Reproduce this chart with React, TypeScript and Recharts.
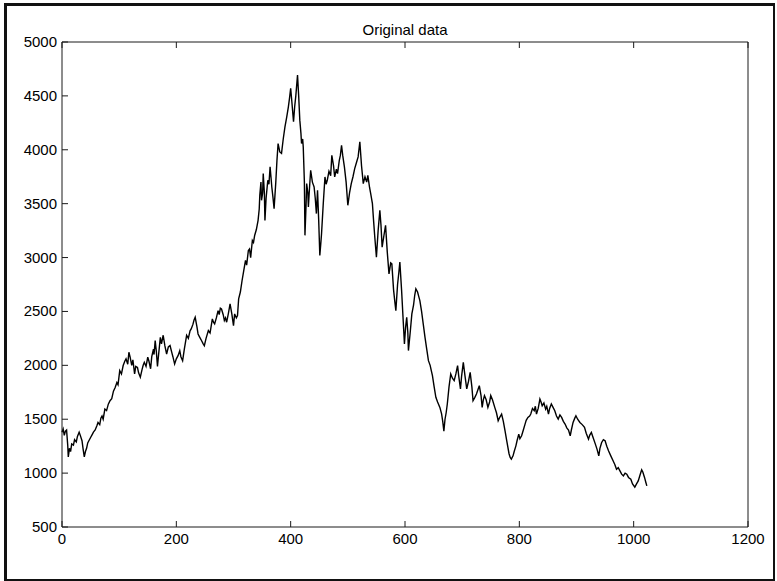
import React from 'react';
import { LineChart, Line, XAxis, YAxis } from 'recharts';

// sample index (x) and value pairs
const sampleX = [
  0, 2, 4, 6, 8, 10, 11, 13, 15, 17, 20, 22, 25, 27, 30, 32, 35, 37, 39, 41, 43, 45, 47, 50, 53, 55, 58, 61, 63, 66,
  68, 70, 72, 75, 78, 81, 84, 87, 90, 93, 96, 98, 101, 104, 107, 110, 112, 115, 117, 119, 122, 124, 127, 129, 132, 134, 137, 140, 142, 144,
  147, 150, 152, 155, 157, 160, 161, 163, 165, 167, 169, 172, 174, 177, 180, 183, 186, 189, 192, 194, 197, 200, 203, 206, 208, 211, 214, 218, 221, 224,
  226, 229, 231, 233, 236, 238, 241, 244, 247, 249, 252, 256, 259, 263, 265, 267, 270, 273, 275, 277, 279, 282, 284, 286, 288, 291, 294, 297, 300, 302,
  305, 307, 309, 312, 315, 318, 321, 323, 326, 328, 330, 333, 335, 337, 340, 343, 345, 346, 348, 349, 351, 352, 354, 355, 357, 360, 362, 364, 366, 367,
  369, 371, 374, 376, 378, 381, 384, 387, 390, 393, 396, 398, 400, 402, 405, 407, 409, 412, 414, 416, 418, 419, 421, 422, 424, 425, 427, 428, 430, 431,
  433, 435, 438, 441, 443, 445, 447, 449, 451, 453, 454, 457, 460, 462, 464, 467, 470, 472, 475, 477, 480, 482, 485, 487, 489, 491, 494, 497, 500, 503,
  506, 509, 512, 515, 518, 521, 524, 527, 530, 533, 535, 538, 540, 543, 545, 547, 550, 553, 556, 558, 560, 563, 566, 569, 572, 575, 577, 580, 582, 584,
  587, 589, 591, 594, 597, 599, 601, 603, 605, 606, 609, 612, 615, 617, 619, 622, 624, 626, 629, 632, 635, 638, 641, 644, 646, 648, 651, 654, 657, 661,
  664, 666, 668, 670, 672, 674, 677, 680, 683, 686, 689, 692, 694, 697, 699, 702, 705, 708, 711, 714, 717, 719, 722, 725, 728, 730, 733, 735, 737, 739,
  742, 745, 748, 750, 753, 757, 760, 763, 766, 769, 772, 775, 778, 780, 782, 784, 786, 789, 791, 794, 796, 799, 801, 804, 807, 810, 812, 815, 818, 820,
  823, 826, 828, 830, 833, 836, 838, 840, 843, 846, 848, 851, 853, 856, 859, 862, 865, 868, 871, 874, 877, 880, 883, 886, 889, 891, 894, 897, 899, 902,
  906, 910, 914, 917, 921, 923, 926, 929, 933, 936, 939, 941, 944, 947, 950, 953, 956, 960, 964, 967, 970, 973, 976, 979, 982, 985, 988, 991, 995, 998,
  1002, 1005, 1008, 1011, 1014, 1016, 1019, 1021, 1023,
];

const sampleValue = [
  1380, 1410, 1350, 1390, 1400, 1260, 1150, 1230, 1200, 1270, 1260, 1310, 1290, 1340, 1380, 1350, 1300, 1220, 1150, 1200, 1230, 1280, 1300, 1330, 1360, 1380, 1400, 1440, 1470, 1450,
  1510, 1530, 1500, 1594, 1580, 1640, 1672, 1690, 1760, 1795, 1840, 1820, 1951, 1920, 1998, 2040, 2060, 2010, 2121, 2080, 2000, 2050, 1920, 1990, 1980, 1930, 1890, 1960, 2000, 2028,
  1990, 2075, 2040, 1968, 2080, 2150, 2100, 2229, 2130, 1990, 2100, 2260, 2200, 2279, 2180, 2105, 2170, 2183, 2120, 2080, 2012, 2060, 2090, 2136, 2080, 2043, 2150, 2279, 2250, 2320,
  2338, 2380, 2420, 2446, 2360, 2291, 2260, 2230, 2200, 2183, 2250, 2322, 2300, 2431, 2400, 2385, 2440, 2508, 2470, 2530, 2523, 2470, 2416, 2440, 2400, 2480, 2570, 2480, 2369, 2477,
  2440, 2461, 2617, 2680, 2787, 2880, 2973, 2930, 3066, 3080, 3000, 3159, 3140, 3205, 3260, 3345, 3450, 3578, 3700, 3531, 3600, 3779, 3600, 3345, 3550, 3717, 3680, 3841, 3720, 3655,
  3560, 3454, 3700, 3900, 4058, 3980, 3966, 4100, 4213, 4300, 4399, 4480, 4570, 4450, 4260, 4399, 4500, 4693, 4500, 4275, 4150, 4058, 4100, 4027, 3700, 3206, 3500, 3686, 3600, 3470,
  3650, 3810, 3700, 3655, 3550, 3408, 3625, 3350, 3020, 3150, 3221, 3500, 3748, 3680, 3717, 3800, 3760, 3949, 3850, 3748, 3820, 3779, 3900, 3950, 4042, 3950, 3841, 3700, 3485, 3600,
  3686, 3750, 3825, 3880, 3934, 4073, 3850, 3686, 3750, 3700, 3763, 3650, 3593, 3500, 3345, 3200, 3004, 3250, 3438, 3300, 3097, 3200, 3299, 3050, 2849, 2950, 2941, 2700, 2600, 2508,
  2750, 2850, 2958, 2700, 2400, 2199, 2350, 2446, 2300, 2137, 2300, 2477, 2560, 2650, 2710, 2680, 2640, 2601, 2500, 2380, 2260, 2150, 2043, 2000, 1950, 1904, 1800, 1703, 1660, 1610,
  1550, 1480, 1390, 1500, 1560, 1641, 1800, 1920, 1880, 1858, 1920, 1997, 1900, 1781, 1900, 2028, 1900, 1781, 1850, 1935, 1800, 1672, 1700, 1734, 1780, 1812, 1720, 1610, 1680, 1719,
  1680, 1610, 1660, 1719, 1680, 1610, 1560, 1486, 1520, 1548, 1480, 1393, 1300, 1238, 1180, 1145, 1130, 1160, 1200, 1253, 1300, 1362, 1320, 1346, 1400, 1455, 1490, 1517, 1530, 1548,
  1600, 1579, 1620, 1548, 1600, 1687, 1660, 1625, 1650, 1594, 1620, 1548, 1600, 1641, 1610, 1579, 1530, 1501, 1540, 1517, 1480, 1455, 1420, 1400, 1346, 1400, 1470, 1510, 1532, 1500,
  1470, 1450, 1424, 1370, 1315, 1350, 1377, 1330, 1269, 1220, 1160, 1230, 1284, 1310, 1300, 1250, 1207, 1160, 1114, 1080, 1036, 1050, 1021, 990, 974, 1000, 990, 960, 943, 900,
  870, 900, 928, 980, 1030, 1010, 960, 920, 881,
];

const xTicks = [0, 200, 400, 600, 800, 1000, 1200];
const yTicks = [500, 1000, 1500, 2000, 2500, 3000, 3500, 4000, 4500, 5000];

const chartData = sampleX.map((x, i) => ({ x, value: sampleValue[i] }));

const FONT = '"Liberation Sans", Arial, sans-serif';
const axisColor = '#1a1a1a';
const TICK_LEN = 6;

// matlab style ticks: marks point into the plot box
const BottomTick = (props: any) => {
  const { x, y, payload } = props;
  return (
    <g>
      <line x1={x} y1={y} x2={x} y2={y - TICK_LEN} stroke={axisColor} />
      <text x={x} y={y + 17} textAnchor="middle" fontSize={15} fontFamily={FONT} fill="#000">
        {payload.value}
      </text>
    </g>
  );
};

const LeftTick = (props: any) => {
  const { x, y, payload } = props;
  return (
    <g>
      <line x1={x} y1={y} x2={x + TICK_LEN} y2={y} stroke={axisColor} />
      <text x={x - 5} y={y + 5} textAnchor="end" fontSize={15} fontFamily={FONT} fill="#000">
        {payload.value}
      </text>
    </g>
  );
};

const TopTick = (props: any) => {
  const { x, y } = props;
  return <line x1={x} y1={y} x2={x} y2={y + TICK_LEN} stroke={axisColor} />;
};

const RightTick = (props: any) => {
  const { x, y } = props;
  return <line x1={x} y1={y} x2={x - TICK_LEN} y2={y} stroke={axisColor} />;
};

export default function App() {
  return (
    <div style={{ position: 'absolute', left: 0, top: 0, width: 777, height: 581, background: '#fff' }}>
      {/* scanned page frame */}
      <div
        style={{
          position: 'absolute',
          left: 4,
          top: 3,
          width: 766,
          height: 573,
          border: '3px solid #111',
          borderRightWidth: 2,
          borderBottomWidth: 2,
        }}
      />
      <div
        style={{
          position: 'absolute',
          left: 0,
          width: 810,
          top: 21,
          textAlign: 'center',
          fontFamily: FONT,
          fontSize: 15,
          color: '#000',
        }}
      >
        Original data
      </div>
      <LineChart
        width={777}
        height={581}
        data={chartData}
        margin={{ top: 41, right: 28, bottom: 0, left: 0 }}
        style={{ position: 'absolute', left: 0, top: 0 }}
      >
        <XAxis
          xAxisId="bottom"
          dataKey="x"
          type="number"
          domain={[0, 1200]}
          ticks={xTicks}
          height={54}
          stroke={axisColor}
          tickLine={false}
          tickSize={0}
          tickMargin={0}
          tick={<BottomTick />}
          interval={0}
        />
        <XAxis
          xAxisId="top"
          dataKey="x"
          type="number"
          orientation="top"
          domain={[0, 1200]}
          ticks={xTicks}
          height={1}
          stroke={axisColor}
          tickLine={false}
          tickSize={0}
          tickMargin={0}
          tick={<TopTick />}
          interval={0}
        />
        <YAxis
          yAxisId="left"
          type="number"
          domain={[500, 5000]}
          ticks={yTicks}
          width={62}
          stroke={axisColor}
          tickLine={false}
          tickSize={0}
          tickMargin={0}
          tick={<LeftTick />}
          interval={0}
        />
        <YAxis
          yAxisId="right"
          type="number"
          orientation="right"
          domain={[500, 5000]}
          ticks={yTicks}
          width={1}
          stroke={axisColor}
          tickLine={false}
          tickSize={0}
          tickMargin={0}
          tick={<RightTick />}
          interval={0}
        />
        <Line
          xAxisId="bottom"
          yAxisId="left"
          dataKey="value"
          type="linear"
          stroke="#000"
          strokeWidth={1.4}
          dot={false}
          isAnimationActive={false}
        />
      </LineChart>
    </div>
  );
}
